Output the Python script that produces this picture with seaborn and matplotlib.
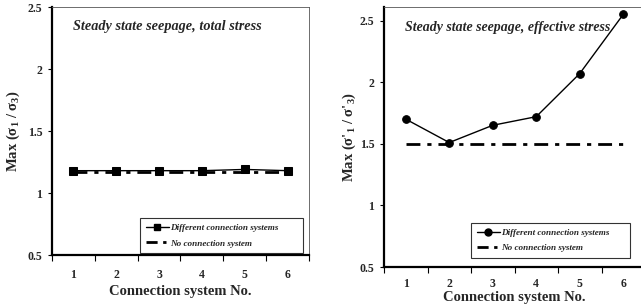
import numpy as np
import pandas as pd
import matplotlib
matplotlib.use("Agg")
import matplotlib.pyplot as plt
import seaborn as sns
from matplotlib.lines import Line2D

sns.set_style("white")
plt.rcParams['font.family'] = ['Liberation Serif', 'DejaVu Serif']
plt.rcParams['mathtext.fontset'] = 'custom'
plt.rcParams['mathtext.rm'] = 'Liberation Serif:bold'
plt.rcParams['mathtext.it'] = 'Liberation Serif:bold'
plt.rcParams['mathtext.bf'] = 'Liberation Serif:bold'

categories = ["1", "2", "3", "4", "5", "6"]
total_diff = [1.18, 1.18, 1.18, 1.18, 1.19, 1.18]
total_none = [1.17, 1.17, 1.17, 1.17, 1.17, 1.17]
eff_diff = [1.70, 1.51, 1.65, 1.72, 2.07, 2.55]
eff_none = [1.50, 1.50, 1.50, 1.50, 1.50, 1.50]
ytick_vals = [0.5, 1.0, 1.5, 2.0, 2.5]
ytick_labels = ["0.5", "1", "1.5", "2", "2.5"]

fig = plt.figure(figsize=(6.41, 3.08), dpi=100)
W, H = 641, 308
def box(x0, x1, y0, y1):
    return [x0 / W, 1 - y1 / H, (x1 - x0) / W, (y1 - y0) / H]

ax1 = fig.add_axes(box(52, 309, 7, 255))
ax2 = fig.add_axes(box(384, 645, 7, 267))

def draw(ax, diff, none, marker, title, ylabel, ylim, legbox, xpad, xlpad, ylx, tsize):
    idx = np.arange(len(categories))
    df = pd.DataFrame({"x": idx, "diff": diff, "none": none})
    sns.lineplot(data=df, x="x", y="diff", ax=ax, color="black", lw=1.0,
                 marker=marker, markersize=5.5, markeredgecolor="black")
    sns.lineplot(data=df, x="x", y="none", ax=ax, color="black", lw=2.0)
    ax.lines[-1].set_dashes([5, 2.5, 1.5, 2.5])
    ax.set_xlim(-0.5, len(categories) - 0.5)
    ax.set_ylim(*ylim)
    ax.set_xticks(np.arange(len(categories) + 1) - 0.5)
    ax.set_xticklabels([])
    ax.set_xticks(idx, minor=True)
    ax.set_xticklabels(categories, minor=True, fontweight="bold", fontsize=8.5)
    ax.tick_params(axis="x", which="major", direction="out", length=4, width=0.8, color="black", bottom=True)
    ax.tick_params(axis="x", which="minor", length=0, pad=xpad)
    ax.set_yticks(ytick_vals)
    ax.set_yticklabels(ytick_labels, fontweight="bold", fontsize=8.5)
    ax.tick_params(axis="y", direction="out", length=3, width=0.8, color="black", left=True, pad=4)
    for s in ["left", "bottom"]:
        ax.spines[s].set_linewidth(1.6)
        ax.spines[s].set_color("black")
    for s in ["top", "right"]:
        ax.spines[s].set_linewidth(0.6)
        ax.spines[s].set_color("#555555")
    ax.set_xlabel("Connection system No.", fontweight="bold", fontsize=10.5, labelpad=xlpad)
    ax.set_ylabel(ylabel, fontsize=10.5, fontweight="bold")
    ax.yaxis.set_label_coords(ylx, 0.5)
    ax.text(0.08, 0.92, title, transform=ax.transAxes, fontsize=tsize,
            fontweight="bold", fontstyle="italic", va="center", ha="left")
    handles = [Line2D([], [], color="black", lw=1.0, marker=marker, markersize=5),
               Line2D([], [], color="black", lw=2.0, dashes=[4, 2, 1.2, 2])]
    leg = ax.legend(handles, ["Different connection systems", "No connection system"],
                    loc="lower left", bbox_to_anchor=legbox, bbox_transform=fig.transFigure,
                    mode="expand", frameon=True, fancybox=False, handlelength=2.6,
                    handletextpad=0.1, borderpad=0.6, labelspacing=0.8, borderaxespad=0,
                    prop={"family": "Liberation Serif", "weight": "bold", "style": "italic", "size": 6.6})
    leg.get_frame().set_edgecolor("black")
    leg.get_frame().set_linewidth(0.8)

draw(ax1, total_diff, total_none, "s", "Steady state seepage, total stress",
     r"Max (σ$_1$ / σ$_3$)", (0.5, 2.5), box(140, 303, 210, 253), 10, 3, -0.117, 10.3)
draw(ax2, eff_diff, eff_none, "o", "Steady state seepage, effective stress",
     r"Max (σ'$_1$ / σ'$_3$)", (0.5, 2.61), box(471, 630, 223, 258), 8, 1, -0.10, 10.0)

fig.savefig("out.png", dpi=100)
